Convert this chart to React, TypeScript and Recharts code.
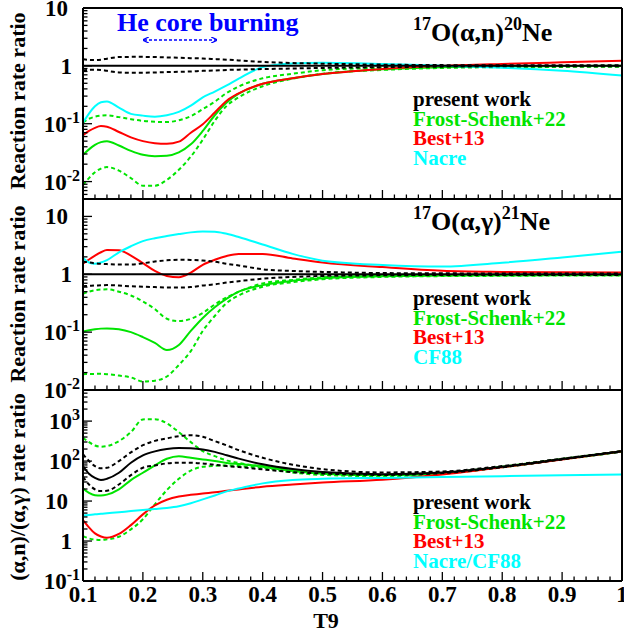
import React from "react";
import { LineChart, Line, XAxis, YAxis } from "recharts";

// ---------- data ----------
const T9 = [0.10, 0.11, 0.12, 0.13, 0.14, 0.16, 0.18, 0.20, 0.22, 0.24, 0.26, 0.28, 0.30, 0.32, 0.34, 0.36, 0.40, 0.45, 0.50, 0.60, 0.70, 0.80, 0.90, 1.00];

// 17O(a,n)20Ne ratios
const an_pw = [1, 1, 1, 1, 1, 1, 1, 1, 1, 1, 1, 1, 1, 1, 1, 1, 1, 1, 1, 1, 1, 1, 1, 1];
const an_pwHi = [1.3, 1.27, 1.26, 1.28, 1.33, 1.42, 1.43, 1.43, 1.42, 1.4, 1.38, 1.36, 1.34, 1.31, 1.28, 1.24, 1.17, 1.12, 1.09, 1.05, 1.03, 1.02, 1.02, 1.02];
const an_pwLo = [0.835, 0.85, 0.86, 0.85, 0.82, 0.77, 0.76, 0.76, 0.77, 0.78, 0.79, 0.8, 0.82, 0.83, 0.85, 0.86, 0.88, 0.9, 0.92, 0.95, 0.97, 0.98, 0.98, 0.98];
const an_nacre = [0.105, 0.15, 0.2, 0.235, 0.243, 0.19, 0.148, 0.138, 0.132, 0.14, 0.16, 0.205, 0.286, 0.36, 0.46, 0.6, 0.95, 1.1, 1.13, 1.08, 1.0, 0.93, 0.82, 0.68];
const an_best = [0.063, 0.075, 0.085, 0.091, 0.089, 0.072, 0.058, 0.05, 0.046, 0.045, 0.049, 0.07, 0.098, 0.156, 0.25, 0.336, 0.49, 0.61, 0.72, 0.88, 1.0, 1.08, 1.15, 1.22];
const an_fs = [0.029, 0.036, 0.043, 0.048, 0.05, 0.042, 0.034, 0.029, 0.0275, 0.028, 0.032, 0.044, 0.075, 0.14, 0.233, 0.33, 0.49, 0.61, 0.72, 0.87, 0.95, 0.98, 0.99, 1.0];
const an_fsHi = [0.105, 0.122, 0.132, 0.138, 0.14, 0.13, 0.12, 0.112, 0.108, 0.107, 0.115, 0.135, 0.179, 0.24, 0.34, 0.44, 0.61, 0.73, 0.84, 0.93, 0.97, 0.98, 0.98, 0.98];
const an_fsLo = [0.0087, 0.0115, 0.0145, 0.0168, 0.0178, 0.0155, 0.0115, 0.0085, 0.0085, 0.0107, 0.016, 0.027, 0.053, 0.112, 0.204, 0.286, 0.445, 0.6, 0.73, 0.85, 0.92, 0.95, 0.96, 0.97];

// 17O(a,g)21Ne ratios
const ag_pw = [1, 1, 1, 1, 1, 1, 1, 1, 1, 1, 1, 1, 1, 1, 1, 1, 1, 1, 1, 1, 1, 1, 1, 1];
const ag_pwHi = [1.67, 1.6, 1.55, 1.52, 1.5, 1.47, 1.47, 1.55, 1.66, 1.74, 1.78, 1.77, 1.73, 1.65, 1.52, 1.42, 1.22, 1.14, 1.1, 1.05, 1.04, 1.03, 1.03, 1.03];
const ag_pwLo = [0.62, 0.63, 0.64, 0.645, 0.65, 0.64, 0.62, 0.61, 0.6, 0.59, 0.59, 0.6, 0.64, 0.67, 0.72, 0.76, 0.84, 0.9, 0.935, 0.96, 0.97, 0.97, 0.97, 0.97];
const ag_cf88 = [1.91, 1.6, 1.52, 1.6, 1.75, 2.4, 3.05, 3.74, 4.2, 4.58, 4.95, 5.3, 5.46, 5.45, 5.0, 4.4, 3.27, 2.25, 1.72, 1.45, 1.36, 1.58, 1.95, 2.45];
const ag_best = [1.52, 1.8, 2.1, 2.4, 2.62, 2.6, 2.1, 1.56, 1.14, 0.935, 0.886, 1.07, 1.46, 1.78, 2.07, 2.24, 2.24, 1.88, 1.6, 1.33, 1.15, 1.1, 1.08, 1.07];
const ag_fs = [0.103, 0.108, 0.112, 0.115, 0.116, 0.112, 0.1, 0.082, 0.065, 0.049, 0.06, 0.105, 0.176, 0.27, 0.38, 0.5, 0.65, 0.77, 0.85, 0.92, 0.95, 0.96, 0.97, 0.97];
const ag_fsHi = [0.46, 0.5, 0.53, 0.545, 0.55, 0.5, 0.43, 0.34, 0.25, 0.17, 0.155, 0.17, 0.215, 0.3, 0.4, 0.5, 0.695, 0.8, 0.886, 0.94, 0.96, 0.96, 0.96, 0.96];
const ag_fsLo = [0.0188, 0.0189, 0.019, 0.019, 0.0188, 0.0178, 0.0165, 0.014, 0.0145, 0.0171, 0.027, 0.047, 0.105, 0.19, 0.32, 0.43, 0.61, 0.73, 0.82, 0.9, 0.93, 0.94, 0.95, 0.95];

// (a,n)/(a,g) ratios
const r_pw = [75, 48, 38, 33.5, 36, 51, 91, 139, 175, 200, 211, 208, 195, 170, 140, 115, 83, 63, 53, 47, 52, 72, 112, 175];
const r_pwHi = [150, 100, 75, 66, 68, 100, 165, 250, 320, 370, 420, 445, 406, 316, 246, 188, 121, 81, 63, 52, 55, 75, 115, 178];
const r_pwLo = [40.5, 26, 19.6, 17.8, 18.1, 26, 44.6, 68, 78, 87.6, 91, 91, 87, 81, 75, 71, 62, 53, 49, 45, 50, 70, 110, 172];
const r_nacre = [4.38, 4.5, 4.65, 4.8, 4.95, 5.25, 5.6, 5.96, 6.3, 6.7, 7.4, 8.8, 11, 13.8, 17.5, 20.5, 27.7, 33.5, 36, 38, 40, 42, 44, 46];
const r_best = [3.35, 2.2, 1.55, 1.3, 1.21, 1.5, 2.5, 4.64, 7.8, 10.8, 13, 14.3, 15.5, 16.5, 18, 19.5, 22.9, 26, 29, 34, 46, 70, 110, 175];
const r_fs = [20.7, 16, 14, 13.8, 14.5, 19.6, 33.5, 51, 78, 114, 132, 121, 110, 100, 90, 84, 75, 57, 48, 44, 50, 72, 112, 175];
const r_fsHi = [383, 298, 246, 229, 237, 316, 530, 1100, 1120, 880, 530, 298, 178, 133, 104, 90, 72, 57, 51, 45, 50, 72, 112, 175];
const r_fsLo = [1.33, 1.16, 1.08, 1.06, 1.1, 1.28, 1.96, 3.5, 8.3, 18.8, 36, 58, 72, 76, 78, 75, 68, 52, 45, 42, 48, 70, 110, 172];

// ticks
const xTicks = [0.1, 0.12, 0.14, 0.16, 0.18, 0.2, 0.22, 0.24, 0.26, 0.28, 0.3, 0.32, 0.34, 0.36, 0.38, 0.4, 0.42, 0.44, 0.46, 0.48, 0.5, 0.52, 0.54, 0.56, 0.58, 0.6, 0.62, 0.64, 0.66, 0.68, 0.7, 0.72, 0.74, 0.76, 0.78, 0.8, 0.82, 0.84, 0.86, 0.88, 0.9, 0.92, 0.94, 0.96, 0.98, 1.0];
const xMajor = [0.1, 0.2, 0.3, 0.4, 0.5, 0.6, 0.7, 0.8, 0.9, 1.0];
const xLabels = ["0.1", "0.2", "0.3", "0.4", "0.5", "0.6", "0.7", "0.8", "0.9", "1"];
const minorMult = [1, 2, 3, 4, 5, 6, 7, 8, 9];
const anDecades = [0.001, 0.01, 0.1, 1, 10];
const agDecades = [0.01, 0.1, 1, 10];
const rDecades = [0.1, 1, 10, 100, 1000];

const anDomain = [0.005, 10];
const agDomain = [0.01, 20];
const rDomain = [0.1, 6000];

const GREEN = "#00e400";
const RED = "#ff0000";
const CYAN = "#00ffff";
const BLACK = "#000000";
const FONT = "'Liberation Serif', 'Times New Roman', serif";

function buildTicks(decades: number[], domain: number[]) {
  const out: number[] = [];
  decades.forEach((d) => minorMult.forEach((m) => {
    const v = +(d * m).toPrecision(6);
    if (v >= domain[0] * 0.999 && v <= domain[1] * 1.001) out.push(v);
  }));
  return out;
}

function makeData(cols: Record<string, number[]>) {
  return T9.map((t, i) => {
    const row: any = { t };
    Object.keys(cols).forEach((k) => (row[k] = cols[k][i]));
    return row;
  });
}

const XTick = (props: any) => {
  const { x, y, payload, showLabel } = props;
  const v = payload.value;
  const idx = xMajor.findIndex((m) => Math.abs(m - v) < 1e-6);
  const major = idx >= 0;
  return (
    <g>
      <line x1={x} x2={x} y1={y} y2={y - (major ? 9 : 4.5)} stroke="#000" strokeWidth={1.3} />
      {showLabel && major && (
        <text x={x} y={y + 21} textAnchor="middle" fontFamily={FONT} fontWeight="bold" fontSize={23} fill="#000">
          {xLabels[idx]}
        </text>
      )}
    </g>
  );
};

const YTick = (props: any) => {
  const { x, y, payload } = props;
  const v = payload.value;
  const lg = Math.log10(v);
  const e = Math.round(lg);
  const major = Math.abs(lg - e) < 1e-6;
  let label: any = null;
  if (major) {
    if (e === 0) {
      label = (
        <text x={72} y={y + 8} textAnchor="end" fontFamily={FONT} fontWeight="bold" fontSize={23} fill="#000">1</text>
      );
    } else if (e === 1) {
      label = (
        <text x={68} y={y + 8} textAnchor="end" fontFamily={FONT} fontWeight="bold" fontSize={23} fill="#000">10</text>
      );
    } else {
      label = (
        <text x={80} y={y + 8} textAnchor="end" fontFamily={FONT} fontWeight="bold" fontSize={23} fill="#000">
          10<tspan fontSize={16} dy={-9}>{e < 0 ? "-" + Math.abs(e) : String(e)}</tspan>
        </text>
      );
    }
  }
  return (
    <g>
      <line x1={x} x2={x + (major ? 9 : 4.5)} y1={y} y2={y} stroke="#000" strokeWidth={1.3} />
      {label}
    </g>
  );
};

type SeriesDef = { key: string; color: string; dashed?: boolean };

const seriesOrder: SeriesDef[] = [
  { key: "fsHi", color: GREEN, dashed: true },
  { key: "fsLo", color: GREEN, dashed: true },
  { key: "fs", color: GREEN },
  { key: "best", color: RED },
  { key: "other", color: CYAN },
  { key: "pwHi", color: BLACK, dashed: true },
  { key: "pwLo", color: BLACK, dashed: true },
  { key: "pw", color: BLACK },
];

function Panel(props: { data: any[]; domain: number[]; decades: number[]; top: number; bottom: number; showXLabels?: boolean }) {
  const { data, domain, decades, top, bottom, showXLabels } = props;
  const yTicks = buildTicks(decades, domain);
  return (
    <div style={{ position: "absolute", left: 0, top: 0 }}>
      <LineChart width={624} height={637} data={data} margin={{ top: top - 1, right: 1, bottom: bottom - 1, left: 0 }}>
        <XAxis
          dataKey="t"
          type="number"
          domain={[0.1, 1]}
          ticks={xTicks}
          interval={0}
          allowDataOverflow
          height={1}
          tickSize={0}
          tickMargin={0}
          tickLine={false}
          axisLine={{ stroke: "#000", strokeWidth: 2 }}
          tick={(p: any) => <XTick {...p} showLabel={showXLabels} />}
        />
        <XAxis
          xAxisId="top"
          orientation="top"
          dataKey="t"
          type="number"
          domain={[0.1, 1]}
          height={1}
          tick={false}
          tickLine={false}
          axisLine={{ stroke: "#000", strokeWidth: 2 }}
        />
        <YAxis
          type="number"
          scale="log"
          domain={domain}
          allowDataOverflow
          ticks={yTicks}
          interval={0}
          width={83}
          tickSize={0}
          tickMargin={0}
          tickLine={false}
          axisLine={{ stroke: "#000", strokeWidth: 2 }}
          tick={(p: any) => <YTick {...p} />}
        />
        <YAxis
          yAxisId="right"
          orientation="right"
          type="number"
          scale="log"
          domain={domain}
          allowDataOverflow
          width={1}
          tick={false}
          tickLine={false}
          axisLine={{ stroke: "#000", strokeWidth: 2 }}
        />
        {seriesOrder.map((s) => (
          <Line
            key={s.key}
            type="monotone"
            dataKey={s.key}
            stroke={s.color}
            strokeWidth={2}
            strokeDasharray={s.dashed ? "4 3" : undefined}
            dot={false}
            activeDot={false}
            isAnimationActive={false}
          />
        ))}
      </LineChart>
    </div>
  );
}

const dataAn = makeData({ pw: an_pw, pwHi: an_pwHi, pwLo: an_pwLo, other: an_nacre, best: an_best, fs: an_fs, fsHi: an_fsHi, fsLo: an_fsLo });
const dataAg = makeData({ pw: ag_pw, pwHi: ag_pwHi, pwLo: ag_pwLo, other: ag_cf88, best: ag_best, fs: ag_fs, fsHi: ag_fsHi, fsLo: ag_fsLo });
const dataR = makeData({ pw: r_pw, pwHi: r_pwHi, pwLo: r_pwLo, other: r_nacre, best: r_best, fs: r_fs, fsHi: r_fsHi, fsLo: r_fsLo });

const legendTop = ["present work", "Frost-Schenk+22", "Best+13", "Nacre"];
const legendMid = ["present work", "Frost-Schenk+22", "Best+13", "CF88"];
const legendBot = ["present work", "Frost-Schenk+22", "Best+13", "Nacre/CF88"];
const legendColors = [BLACK, GREEN, RED, CYAN];

function Legend(props: { items: string[]; y: number }) {
  return (
    <g>
      {props.items.map((t, i) => (
        <text key={t} x={413} y={props.y + i * 19.7} fontFamily={FONT} fontWeight="bold" fontSize={21} fill={legendColors[i]}>
          {t}
        </text>
      ))}
    </g>
  );
}

function Title(props: { pre: string; main: string; post: string; tail: string; y: number }) {
  return (
    <text x={413} y={props.y} fontFamily={FONT} fontWeight="bold" fontSize={26} fill="#000">
      <tspan fontSize={18} dy={-11}>{props.pre}</tspan>
      <tspan dy={11}>{props.main}</tspan>
      <tspan fontSize={18} dy={-11}>{props.post}</tspan>
      <tspan dy={11}>{props.tail}</tspan>
    </text>
  );
}

export default function App() {
  return (
    <div style={{ position: "absolute", left: 0, top: 0, width: 624, height: 637, background: "#fff" }}>
      <Panel data={dataAn} domain={anDomain} decades={anDecades} top={8} bottom={438} />
      <Panel data={dataAg} domain={agDomain} decades={agDecades} top={199} bottom={247} />
      <Panel data={dataR} domain={rDomain} decades={rDecades} top={390} bottom={56} showXLabels />
      <svg width={624} height={637} style={{ position: "absolute", left: 0, top: 0, pointerEvents: "none" }}>
        <defs>
          <marker id="ah" viewBox="0 0 10 10" refX="8" refY="5" markerWidth="5" markerHeight="5" orient="auto-start-reverse">
            <path d="M0,0 L10,5 L0,10" fill="none" stroke="#0000ff" strokeWidth={2} />
          </marker>
        </defs>
        <text x={117} y={31} fontFamily={FONT} fontWeight="bold" fontSize={26} fill="#0000ff">He core burning</text>
        <line x1={144} x2={216} y1={40} y2={40} stroke="#0000ff" strokeWidth={1.3} strokeDasharray="3 2" markerStart="url(#ah)" markerEnd="url(#ah)" />
        <Title pre="17" main="O(α,n)" post="20" tail="Ne" y={41} />
        <Title pre="17" main="O(α,γ)" post="21" tail="Ne" y={230} />
        <Legend items={legendTop} y={106} />
        <Legend items={legendMid} y={305} />
        <Legend items={legendBot} y={509} />
        <text transform="translate(25,101) rotate(-90)" textAnchor="middle" fontFamily={FONT} fontWeight="bold" fontSize={22} fill="#000">Reaction rate ratio</text>
        <text transform="translate(25,294) rotate(-90)" textAnchor="middle" fontFamily={FONT} fontWeight="bold" fontSize={22} fill="#000">Reaction rate ratio</text>
        <text transform="translate(25,487) rotate(-90)" textAnchor="middle" fontFamily={FONT} fontWeight="bold" fontSize={22} fill="#000">(α,n)/(α,γ) rate ratio</text>
        <text x={326} y={628} textAnchor="middle" fontFamily={FONT} fontWeight="bold" fontSize={22} fill="#000">T9</text>
      </svg>
    </div>
  );
}
